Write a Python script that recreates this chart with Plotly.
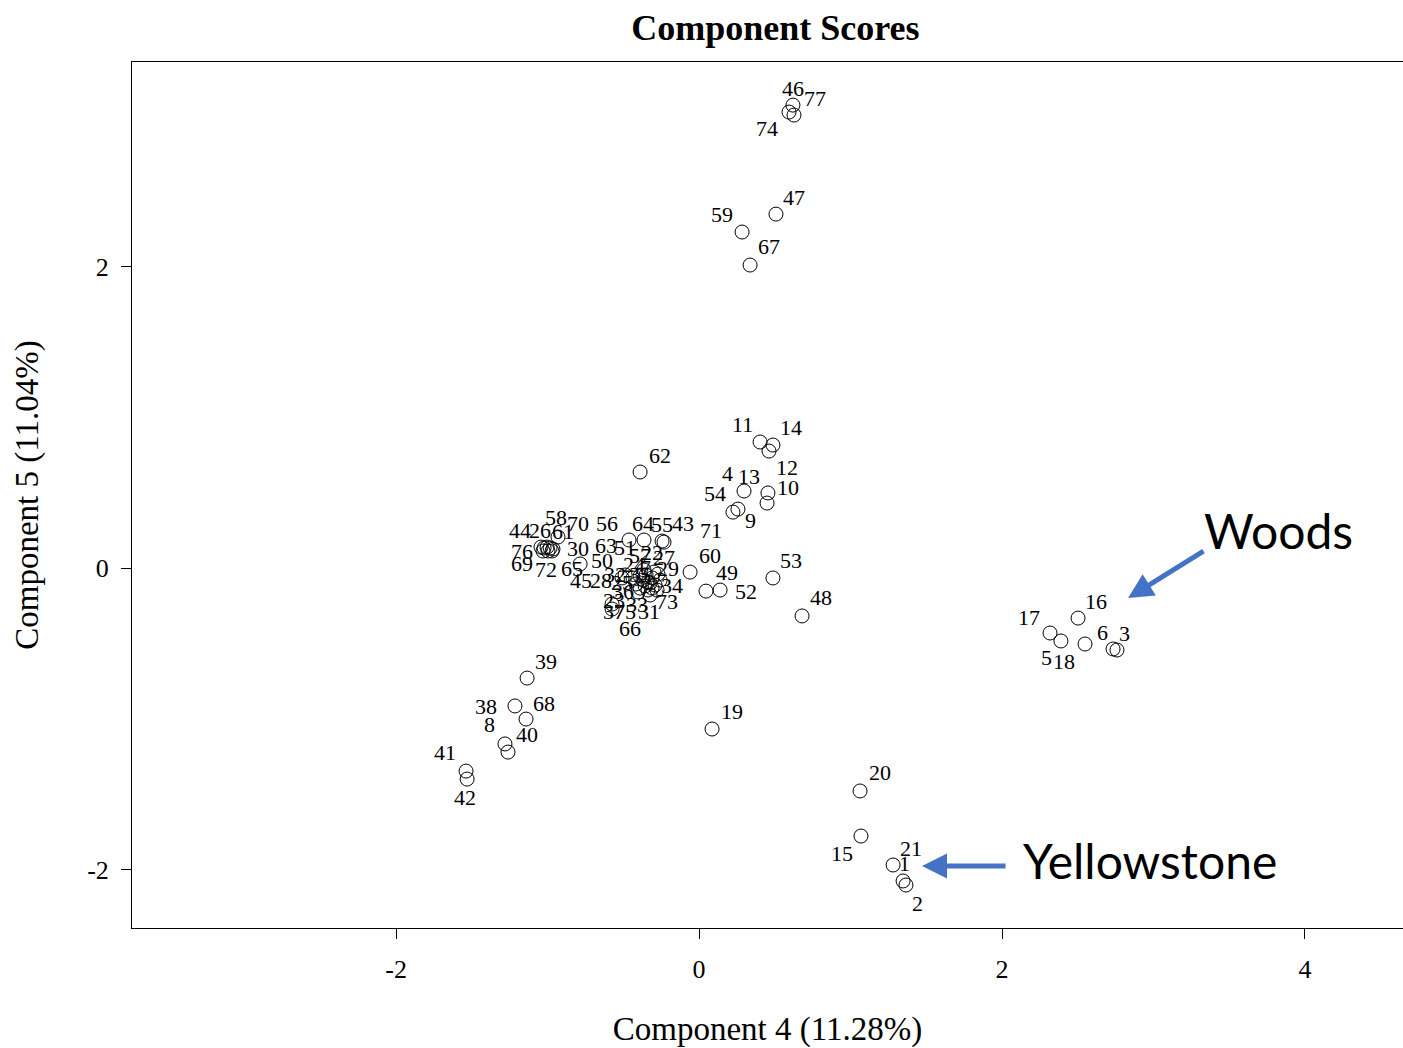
import plotly.graph_objects as go

# ---------------- data ----------------
ids = list(range(1, 78))
comp4 = [1.347, 1.366, 2.759, 0.297, 2.389, 2.733, -0.310, -1.281, 0.257, 0.449,
         0.403, 0.462, 0.455, 0.488, 1.069, 2.502, 2.317, 2.548, 0.086, 1.063,
         1.281, -0.350, -0.403, -0.389, -0.356, -1.023, -0.297, -0.389, -0.271, -0.970,
         -0.310, -0.370, -0.323, -0.323, -0.337, -0.337, -0.574, -1.215, -1.135, -1.261,
         -1.538, -1.531, -0.231, -1.043, -0.416, 0.620, 0.508, 0.680, 0.046, -0.436,
         -0.488, 0.139, 0.488, 0.224, -0.244, -0.462, -0.363, -0.983, 0.284, -0.059,
         -0.931, -0.389, -0.508, -0.363, -0.785, -0.277, 0.337, -1.142, -0.997, -0.964,
         -0.257, -1.003, -0.290, 0.594, -0.574, -1.030, 0.627]
comp5 = [-2.076, -2.103, -0.544, 0.511, -0.484, -0.537, -0.066, -1.167, 0.391, 0.431,
         0.836, 0.776, 0.498, 0.816, -1.778, -0.332, -0.431, -0.504, -1.068, -1.479,
         -1.970, -0.046, -0.159, -0.053, -0.119, 0.133, -0.027, -0.133, -0.040, 0.113,
         -0.133, -0.080, -0.179, -0.100, -0.093, -0.146, -0.272, -0.915, -0.730, -1.221,
         -1.347, -1.400, 0.172, 0.139, -0.106, 3.071, 2.348, -0.318, -0.153, -0.066,
         -0.046, -0.146, -0.066, 0.371, 0.179, 0.186, -0.013, 0.133, 2.229, -0.027,
         0.206, 0.637, -0.066, 0.186, 0.027, -0.146, 2.010, -1.002, 0.113, 0.126,
         -0.080, 0.139, -0.113, 3.025, -0.239, 0.113, 3.005]

x_ticks = [-2, 0, 2, 4]
y_ticks = [-2, 0, 2]
title_text = "Component Scores"
x_title = "Component 4 (11.28%)"
y_title = "Component 5 (11.04%)"

# ---------------- style: label offsets in pixels (dx right, dy down) ----------------
label_offsets = [
    (1, -17), (12, 18), (8, -17), (-17, -18), (-14, 17), (-11, -16), (-7, -10), (-15, -19), (13, 11), (21, -16),
    (-18, -18), (18, 16), (-19, -16), (18, -18), (-19, 17), (18, -17), (-21, -16), (-21, 17), (20, -18), (20, -18),
    (18, -16), (6, -22), (-24, 8), (-6, -12), (-23, -3), (-4, -17), (10, -15), (-39, -8), (10, -6), (26, -3),
    (-3, 23), (-28, -6), (-13, 9), (22, 2), (-8, -8), (-25, 1), (2, 2), (-29, 1), (19, -17), (19, -18),
    (-21, -19), (-2, 18), (19, -19), (-21, -17), (-55, -4), (0, -17), (18, -17), (19, -18), (21, -19), (-31, -17),
    (0, -27), (26, 1), (18, -17), (-18, -19), (0, -17), (-22, -17), (-4, -14), (6, -30), (-20, -18), (20, -17),
    (5, -5), (20, -17), (-16, -32), (-1, -17), (-8, 5), (-27, 38), (19, -19), (18, -16), (-26, 12), (25, -26),
    (51, -50), (-1, 22), (12, 16), (-22, 16), (13, 7), (-21, 0), (21, -17),
]

SERIF = "Liberation Serif, Times New Roman, serif"
SANS = "Lato, Open Sans, sans-serif"
BLUE = "#4472C4"

fig = go.Figure()
fig.add_trace(go.Scatter(
    x=comp4, y=comp5, mode="markers",
    marker=dict(symbol="circle-open", size=14, color="black", line=dict(width=1, color="black")),
    text=[str(i) for i in ids], hoverinfo="text", showlegend=False,
))

annotations = []
for i, xv, yv, (dx, dy) in zip(ids, comp4, comp5, label_offsets):
    annotations.append(dict(
        x=xv, y=yv, xref="x", yref="y", text=str(i), showarrow=False,
        xshift=dx, yshift=-dy, font=dict(family=SERIF, size=22, color="black"),
    ))

# callouts
annotations += [
    dict(x=2.832, y=-0.199, ax=3.340, ay=0.119, xref="x", yref="y", axref="x", ayref="y",
         text="", showarrow=True, arrowhead=2, arrowsize=1, arrowwidth=5, arrowcolor=BLUE),
    dict(x=1.472, y=-1.977, ax=2.033, ay=-1.977, xref="x", yref="y", axref="x", ayref="y",
         text="", showarrow=True, arrowhead=2, arrowsize=1, arrowwidth=5, arrowcolor=BLUE),
    dict(x=3.822, y=0.252, xref="x", yref="y", text="Woods", showarrow=False,
         font=dict(family=SANS, size=48, color="black")),
    dict(x=2.977, y=-1.937, xref="x", yref="y", text="Yellowstone", showarrow=False,
         font=dict(family=SANS, size=48, color="black")),
]

fig.update_layout(
    width=1403, height=1048,
    margin=dict(l=132, r=0, t=62, b=120),
    paper_bgcolor="white", plot_bgcolor="white",
    title=dict(text="<b>" + title_text + "</b>", x=0.5527, xanchor="center", y=0.974, yanchor="middle",
               font=dict(family=SERIF, size=36, color="black")),
    annotations=annotations,
    xaxis=dict(range=[-3.743, 4.647], tickvals=x_ticks, ticktext=[str(t) for t in x_ticks],
               showgrid=False, zeroline=False, showline=True, mirror=True, linecolor="black", linewidth=1,
               ticks="outside", ticklen=10, tickcolor="black", ticklabelstandoff=8,
               tickfont=dict(family=SERIF, size=26, color="black"),
               title=dict(text=x_title, font=dict(family=SERIF, size=33, color="black"), standoff=37)),
    yaxis=dict(range=[-2.388, 3.357], tickvals=y_ticks, ticktext=[str(t) for t in y_ticks],
               showgrid=False, zeroline=False, showline=True, mirror=False, linecolor="black", linewidth=1,
               ticks="outside", ticklen=10, tickcolor="black", ticklabelstandoff=7,
               tickfont=dict(family=SERIF, size=26, color="black"),
               title=dict(text=y_title, font=dict(family=SERIF, size=33, color="black"), standoff=38)),
)

fig.write_html("out.html")
